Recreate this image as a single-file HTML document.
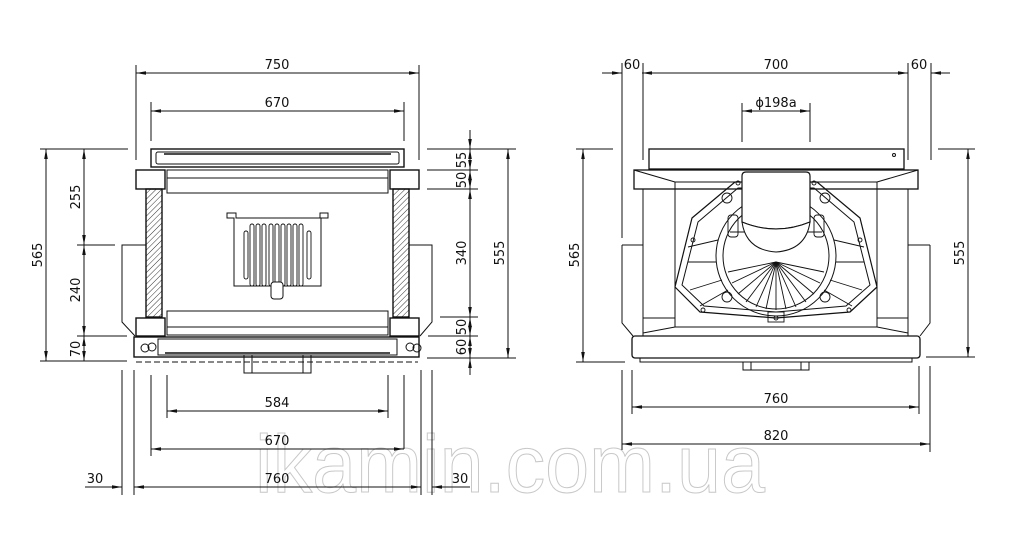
<!DOCTYPE html>
<html><head><meta charset="utf-8"><style>
html,body{margin:0;padding:0;background:#fff;}
svg{display:block;}
text{font-family:"DejaVu Sans","Liberation Sans",sans-serif;font-size:13px;fill:#111;}
</style></head><body>
<svg width="1018" height="540" viewBox="0 0 1018 540" xmlns="http://www.w3.org/2000/svg">
<defs>
<marker id="a" markerWidth="10" markerHeight="6" refX="10" refY="3" orient="auto-start-reverse" markerUnits="userSpaceOnUse"><path d="M0,1.2 L10,3 L0,4.8z" fill="#111"/></marker>
<pattern id="h" width="4" height="4" patternUnits="userSpaceOnUse" patternTransform="rotate(45)"><line x1="0" y1="0" x2="0" y2="4" stroke="#333" stroke-width="1"/></pattern>
</defs>
<!-- watermark -->
<text x="255" y="492" textLength="510" lengthAdjust="spacingAndGlyphs" style="font-family:'Liberation Sans',sans-serif;font-size:82px;fill:#fff;stroke:#c8c8c8;stroke-width:1">ikamin.com.ua</text>

<g stroke="#111" stroke-width="1" fill="none">
<!-- LEFT VIEW dims -->
<line x1="136" y1="65" x2="136" y2="160"/><line x1="419" y1="65" x2="419" y2="160"/>
<line x1="136" y1="73" x2="419" y2="73" marker-start="url(#a)" marker-end="url(#a)"/>
<line x1="151" y1="102" x2="151" y2="141"/><line x1="404" y1="102" x2="404" y2="141"/>
<line x1="151" y1="111" x2="404" y2="111" marker-start="url(#a)" marker-end="url(#a)"/>
<!-- left vertical dims -->
<line x1="40" y1="149" x2="128" y2="149"/><line x1="40" y1="361" x2="127" y2="361"/>
<line x1="77" y1="245" x2="115" y2="245"/><line x1="77" y1="336" x2="127" y2="336"/>
<line x1="46" y1="149" x2="46" y2="361" marker-start="url(#a)" marker-end="url(#a)"/>
<line x1="84" y1="149" x2="84" y2="245" marker-start="url(#a)" marker-end="url(#a)"/>
<line x1="84" y1="245" x2="84" y2="336" marker-start="url(#a)" marker-end="url(#a)"/>
<line x1="84" y1="336" x2="84" y2="361" marker-start="url(#a)" marker-end="url(#a)"/>
<!-- right vertical dims -->
<line x1="427" y1="149" x2="516" y2="149"/><line x1="427" y1="170" x2="478" y2="170"/>
<line x1="427" y1="189" x2="478" y2="189"/><line x1="440" y1="317" x2="478" y2="317"/>
<line x1="428" y1="336" x2="478" y2="336"/><line x1="427" y1="358" x2="516" y2="358"/>
<line x1="470" y1="130" x2="470" y2="149" marker-end="url(#a)"/>
<line x1="470" y1="149" x2="470" y2="170" marker-start="url(#a)" marker-end="url(#a)"/>
<line x1="470" y1="170" x2="470" y2="189" marker-start="url(#a)" marker-end="url(#a)"/>
<line x1="470" y1="189" x2="470" y2="317" marker-start="url(#a)" marker-end="url(#a)"/>
<line x1="470" y1="317" x2="470" y2="336" marker-start="url(#a)" marker-end="url(#a)"/>
<line x1="470" y1="336" x2="470" y2="358" marker-start="url(#a)" marker-end="url(#a)"/>
<line x1="470" y1="358" x2="470" y2="375" marker-start="url(#a)"/>
<line x1="508" y1="149" x2="508" y2="358" marker-start="url(#a)" marker-end="url(#a)"/>
<!-- bottom dims -->
<line x1="122" y1="370" x2="122" y2="495"/><line x1="134" y1="370" x2="134" y2="495"/>
<line x1="421" y1="370" x2="421" y2="495"/><line x1="432" y1="370" x2="432" y2="495"/>
<line x1="151" y1="375" x2="151" y2="456"/><line x1="404" y1="375" x2="404" y2="449"/>
<line x1="167" y1="375" x2="167" y2="418"/><line x1="388" y1="375" x2="388" y2="418"/>
<line x1="167" y1="411" x2="388" y2="411" marker-start="url(#a)" marker-end="url(#a)"/>
<line x1="151" y1="449" x2="404" y2="449" marker-start="url(#a)" marker-end="url(#a)"/>
<line x1="134" y1="487" x2="421" y2="487" marker-start="url(#a)" marker-end="url(#a)"/>
<line x1="85" y1="487" x2="122" y2="487" marker-end="url(#a)"/>
<line x1="432" y1="487" x2="470" y2="487" marker-start="url(#a)"/>

<!-- LEFT VIEW body -->
<rect x="151" y="149" width="253" height="18" stroke-width="1.4"/>
<rect x="156" y="152" width="243" height="12" rx="2"/>
<line x1="164" y1="154" x2="391" y2="154" stroke-width="1.6"/>
<rect x="136" y="170" width="29" height="19" stroke-width="1.4"/>
<rect x="390" y="170" width="29" height="19" stroke-width="1.4"/>
<rect x="167" y="170" width="221" height="8"/>
<rect x="167" y="178" width="221" height="15"/>
<rect x="146" y="189" width="16" height="128" fill="url(#h)" stroke-width="1.4"/>
<rect x="393" y="189" width="16" height="128" fill="url(#h)" stroke-width="1.4"/>
<polyline points="146,245 122,245 122,322 135,336"/>
<polyline points="409,245 432,245 432,322 420,336"/>
<rect x="167" y="311" width="221" height="16"/>
<rect x="167" y="327" width="221" height="8"/>
<rect x="136" y="318" width="29" height="18" stroke-width="1.4"/>
<rect x="390" y="318" width="29" height="18" stroke-width="1.4"/>
<rect x="134" y="337" width="285" height="20" stroke-width="1.4"/>
<rect x="158" y="339" width="239" height="16"/>
<line x1="165" y1="353" x2="390" y2="353" stroke-width="1.6"/>
<circle cx="145" cy="348" r="4"/><circle cx="152" cy="347" r="4"/>
<circle cx="410" cy="347" r="4"/><circle cx="417" cy="348" r="4"/>
<line x1="136" y1="362" x2="418" y2="362" stroke-dasharray="6,3"/>
<rect x="244" y="355" width="67" height="18"/>
<line x1="252" y1="355" x2="252" y2="373"/><line x1="303" y1="355" x2="303" y2="373"/>
<!-- grate -->
<path d="M227,213 H236 V218 H320 V213 H328 V218 H321 V286 H234 V218 H227z"/>
<g stroke-width="0.9">
<rect x="244" y="231" width="4" height="48" rx="2"/>
<rect x="250" y="224" width="4" height="62" rx="2"/>
<rect x="256" y="224" width="4" height="62" rx="2"/>
<rect x="262" y="224" width="4" height="62" rx="2"/>
<rect x="269" y="224" width="4" height="62" rx="2"/>
<rect x="275" y="224" width="4" height="62" rx="2"/>
<rect x="281" y="224" width="4" height="62" rx="2"/>
<rect x="287" y="224" width="4" height="62" rx="2"/>
<rect x="293" y="224" width="4" height="62" rx="2"/>
<rect x="299" y="224" width="4" height="62" rx="2"/>
<rect x="307" y="231" width="4" height="48" rx="2"/>
</g>
<rect x="271" y="282" width="12" height="17" rx="3" fill="#fff"/>

<!-- RIGHT VIEW dims -->
<line x1="622" y1="63" x2="622" y2="238"/><line x1="643" y1="63" x2="643" y2="160"/>
<line x1="908" y1="63" x2="908" y2="160"/><line x1="931" y1="63" x2="931" y2="160"/>
<line x1="642" y1="73" x2="908" y2="73" marker-start="url(#a)" marker-end="url(#a)"/>
<line x1="602" y1="73" x2="622" y2="73" marker-end="url(#a)"/>
<line x1="931" y1="73" x2="950" y2="73" marker-start="url(#a)"/>
<line x1="742" y1="103" x2="742" y2="142"/><line x1="810" y1="103" x2="810" y2="142"/>
<line x1="742" y1="111" x2="810" y2="111" marker-start="url(#a)" marker-end="url(#a)"/>
<line x1="576" y1="149" x2="613" y2="149"/><line x1="576" y1="362" x2="625" y2="362"/>
<line x1="583" y1="149" x2="583" y2="362" marker-start="url(#a)" marker-end="url(#a)"/>
<line x1="938" y1="149" x2="975" y2="149"/><line x1="926" y1="357" x2="975" y2="357"/>
<line x1="968" y1="149" x2="968" y2="357" marker-start="url(#a)" marker-end="url(#a)"/>
<line x1="622" y1="370" x2="622" y2="450"/><line x1="632" y1="370" x2="632" y2="414"/>
<line x1="919" y1="366" x2="919" y2="414"/><line x1="930" y1="366" x2="930" y2="452"/>
<line x1="632" y1="407" x2="919" y2="407" marker-start="url(#a)" marker-end="url(#a)"/>
<line x1="622" y1="444" x2="930" y2="444" marker-start="url(#a)" marker-end="url(#a)"/>

<!-- RIGHT VIEW body -->
<rect x="649" y="149" width="255" height="20" stroke-width="1.3"/>
<circle cx="894" cy="155" r="1.5"/>
<polyline points="622,245 643,245" />
<polyline points="622,245 622,323 633,336"/>
<polyline points="930,245 908,245"/><polyline points="930,245 930,323 920,336"/>
<line x1="643" y1="189" x2="643" y2="336"/><line x1="908" y1="189" x2="908" y2="336"/>
<rect x="634" y="170" width="284" height="19" stroke-width="1.3"/>
<line x1="634" y1="170" x2="675" y2="182"/><line x1="918" y1="170" x2="877" y2="182"/>
<rect x="675" y="182" width="202" height="145"/>
<line x1="643" y1="318" x2="675" y2="318"/><line x1="877" y1="318" x2="908" y2="318"/>
<line x1="643" y1="333" x2="675" y2="327"/><line x1="908" y1="333" x2="877" y2="327"/>
<rect x="632" y="336" width="288" height="22" rx="3" stroke-width="1.3"/>
<rect x="640" y="358" width="272" height="4"/>
<rect x="743" y="362" width="66" height="8"/>
<line x1="751" y1="362" x2="751" y2="370"/><line x1="801" y1="362" x2="801" y2="370"/>
<!-- octagon frame -->
<polygon points="692,218 735,182 817,182 860,218 877,287 850,312 776,318 700,312 675,287" stroke-width="1.2"/>
<polygon points="698,222 738,188 814,188 854,222 870,285 846,306 776,312 704,306 682,285"/>
<circle cx="776" cy="256" r="60"/>
<circle cx="776" cy="256" r="53"/>
<g stroke-width="0.9">
<line x1="688" y1="262" x2="716" y2="262"/><line x1="836" y1="262" x2="864" y2="262"/>
<line x1="688" y1="247" x2="718" y2="240"/><line x1="834" y1="240" x2="864" y2="247"/>
<line x1="690" y1="290" x2="722" y2="280"/><line x1="830" y1="280" x2="862" y2="290"/>
<line x1="700" y1="306" x2="728" y2="290"/><line x1="824" y1="290" x2="852" y2="306"/>
<line x1="730" y1="232" x2="822" y2="232"/>
<line x1="776" y1="262" x2="728" y2="272"/><line x1="776" y1="262" x2="732" y2="283"/>
<line x1="776" y1="262" x2="738" y2="294"/><line x1="776" y1="262" x2="746" y2="302"/>
<line x1="776" y1="262" x2="756" y2="307"/><line x1="776" y1="262" x2="766" y2="309"/>
<line x1="776" y1="262" x2="776" y2="310"/><line x1="776" y1="262" x2="786" y2="309"/>
<line x1="776" y1="262" x2="796" y2="307"/><line x1="776" y1="262" x2="806" y2="302"/>
<line x1="776" y1="262" x2="814" y2="294"/><line x1="776" y1="262" x2="820" y2="283"/>
<line x1="776" y1="262" x2="824" y2="272"/>
<circle cx="693" cy="240" r="2"/><circle cx="860" cy="240" r="2"/>
<circle cx="703" cy="310" r="2"/><circle cx="849" cy="310" r="2"/>
<circle cx="738" cy="183" r="2"/><circle cx="814" cy="183" r="2"/>
<circle cx="727" cy="198" r="5"/><circle cx="825" cy="198" r="5"/>
<circle cx="727" cy="297" r="5"/><circle cx="825" cy="297" r="5"/>
<rect x="728" y="215" width="10" height="22" rx="3"/><rect x="814" y="215" width="10" height="22" rx="3"/>
<rect x="768" y="312" width="16" height="10"/><circle cx="776" cy="318" r="2"/>
</g>
<!-- collar -->
<path d="M742,176 Q742,172 746,172 H806 Q810,172 810,176 V222 Q776,236 742,222 Z" fill="#fff" stroke-width="1.2"/>
<path d="M742,222 Q776,236 810,222 Q806,250 776,252 Q746,250 742,222" fill="#fff"/>
</g>

<!-- labels -->
<text x="277" y="69" text-anchor="middle">750</text>
<text x="277" y="107" text-anchor="middle">670</text>
<text x="277" y="407" text-anchor="middle">584</text>
<text x="277" y="445" text-anchor="middle">670</text>
<text x="277" y="483" text-anchor="middle">760</text>
<text x="95" y="483" text-anchor="middle">30</text>
<text x="460" y="483" text-anchor="middle">30</text>
<text transform="translate(42,255) rotate(-90)" text-anchor="middle">565</text>
<text transform="translate(80,197) rotate(-90)" text-anchor="middle">255</text>
<text transform="translate(80,290) rotate(-90)" text-anchor="middle">240</text>
<text transform="translate(80,349) rotate(-90)" text-anchor="middle">70</text>
<text transform="translate(466,160) rotate(-90)" text-anchor="middle">55</text>
<text transform="translate(466,180) rotate(-90)" text-anchor="middle">50</text>
<text transform="translate(466,253) rotate(-90)" text-anchor="middle">340</text>
<text transform="translate(466,327) rotate(-90)" text-anchor="middle">50</text>
<text transform="translate(466,347) rotate(-90)" text-anchor="middle">60</text>
<text transform="translate(504,253) rotate(-90)" text-anchor="middle">555</text>
<text x="776" y="69" text-anchor="middle">700</text>
<text x="632" y="69" text-anchor="middle">60</text>
<text x="919" y="69" text-anchor="middle">60</text>
<text x="776" y="107" text-anchor="middle">ϕ198a</text>
<text transform="translate(579,255) rotate(-90)" text-anchor="middle">565</text>
<text transform="translate(964,253) rotate(-90)" text-anchor="middle">555</text>
<text x="776" y="403" text-anchor="middle">760</text>
<text x="776" y="440" text-anchor="middle">820</text>
</svg>
</body></html>
